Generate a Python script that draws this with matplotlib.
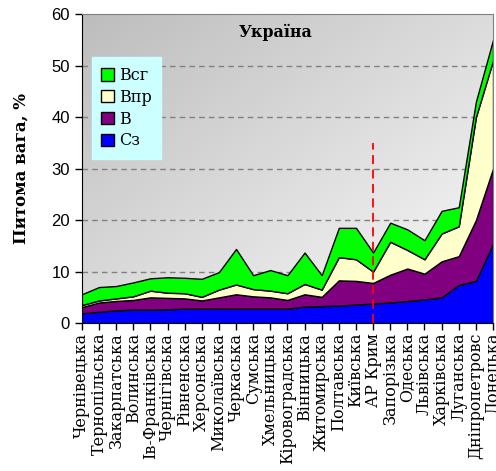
import matplotlib
matplotlib.use("Agg")
import matplotlib.pyplot as plt
import numpy as np
from matplotlib.patches import Patch

# ------------------------------------------------------------
# Data
# ------------------------------------------------------------
regions = ["Чернівецька", "Тернопільська", "Закарпатська", "Волинська",
           "Ів-Франківська", "Чернігівська", "Рівненська", "Херсонська",
           "Миколаївська", "Черкаська", "Сумська", "Хмельницька",
           "Кіровоградська", "Вінницька", "Житомирська", "Полтавська",
           "Київська", "АР Крим", "Запорізька", "Одеська", "Львівська",
           "Харківська", "Луганська", "Дніпропетровс", "Донецька"]

sz = [1.9, 2.2, 2.5, 2.6, 2.6, 2.7, 2.8, 2.8, 2.8, 2.8, 2.8, 2.8, 2.8,
      3.2, 3.3, 3.4, 3.6, 3.8, 4.0, 4.3, 4.6, 5.0, 7.4, 8.2, 15.4]
v = [1.2, 1.8, 1.8, 1.9, 2.4, 2.2, 2.0, 1.6, 2.2, 2.8, 2.4, 2.2, 1.7,
     2.4, 1.8, 4.9, 4.6, 4.0, 5.4, 6.3, 5.0, 7.0, 5.6, 11.8, 14.6]
vpr = [0.4, 0.4, 0.5, 0.7, 1.3, 1.0, 1.0, 0.7, 1.5, 1.9, 1.4, 1.3, 1.3,
       2.0, 1.4, 4.5, 4.2, 2.2, 6.4, 3.6, 2.8, 5.4, 5.8, 20.0, 21.0]
vsg = [2.1, 2.6, 2.4, 2.7, 2.4, 3.0, 3.0, 3.5, 3.4, 6.9, 2.7, 4.0, 3.5,
       6.1, 2.8, 5.7, 6.1, 3.7, 3.7, 4.0, 3.7, 4.4, 3.7, 3.0, 4.0]

series_names = ["Сз", "В", "Впр", "Всг"]
series_colors = ["#0000ff", "#800080", "#ffffcc", "#00ff00"]

crimea_index = regions.index("АР Крим")
crimea_line_top = 35

# ------------------------------------------------------------
# Figure
# ------------------------------------------------------------
fig = plt.figure(figsize=(4.96, 4.71), dpi=100)
ax = fig.add_axes([0.165, 0.314, 0.829, 0.656])

x = np.arange(len(regions))

# gradient background: grey at top-left, almost white at bottom-right
gx, gy = np.meshgrid(np.linspace(0, 1, 200), np.linspace(0, 1, 200))
t = (gx + gy) / 2.0
grey = 0.74 + (0.985 - 0.74) * t
rgb = np.dstack([grey, grey, grey])
ax.imshow(rgb, extent=[0, 1, 0, 1], transform=ax.transAxes,
          aspect="auto", zorder=0)

for yg in range(10, 60, 10):
    ax.axhline(yg, color="#808080", linestyle=(0, (4, 3)), linewidth=1, zorder=1)

ax.stackplot(x, sz, v, vpr, vsg, colors=series_colors,
             edgecolor="black", linewidth=1, zorder=2)

ax.plot([crimea_index, crimea_index], [0, crimea_line_top], color="red",
        linestyle=(0, (5, 3)), linewidth=1.3, zorder=3)

ax.set_xlim(0, len(regions) - 1)
ax.set_ylim(0, 60)
ax.set_yticks(range(0, 61, 10))
ax.set_xticks(x)
ax.set_xticklabels(regions, rotation=90, family="DejaVu Serif", fontsize=11.5,
                   va="top")
for lab in ax.get_yticklabels():
    lab.set_family("Liberation Sans")
    lab.set_fontsize(12)
ax.tick_params(axis="both", direction="out", length=5, width=1, color="black")
ax.tick_params(axis="x", pad=2)

ax.spines["top"].set_color("#808080")
ax.spines["right"].set_color("#808080")

ax.set_ylabel("Питома вага, %", family="DejaVu Serif", fontweight="bold",
              fontsize=12, labelpad=16)

ax.text(0.47, 0.94, "Україна", transform=ax.transAxes, ha="center",
        va="center", family="DejaVu Serif", fontweight="bold", fontsize=11.5,
        zorder=4)

handles = [Patch(facecolor=series_colors[k], edgecolor="black",
                 label=series_names[k]) for k in range(3, -1, -1)]
leg = ax.legend(handles=handles, loc="upper left", bbox_to_anchor=(0.024, 0.86),
                frameon=True, fancybox=False, borderaxespad=0,
                handlelength=0.8, handleheight=0.8, handletextpad=0.3,
                labelspacing=0.3, borderpad=0.6,
                prop={"family": "DejaVu Serif", "size": 11.5})
leg.get_frame().set_facecolor("#ccffff")
leg.get_frame().set_edgecolor("#ccffff")
leg.get_frame().set_alpha(1)
leg.set_zorder(5)

fig.savefig("out.png", dpi=100)
